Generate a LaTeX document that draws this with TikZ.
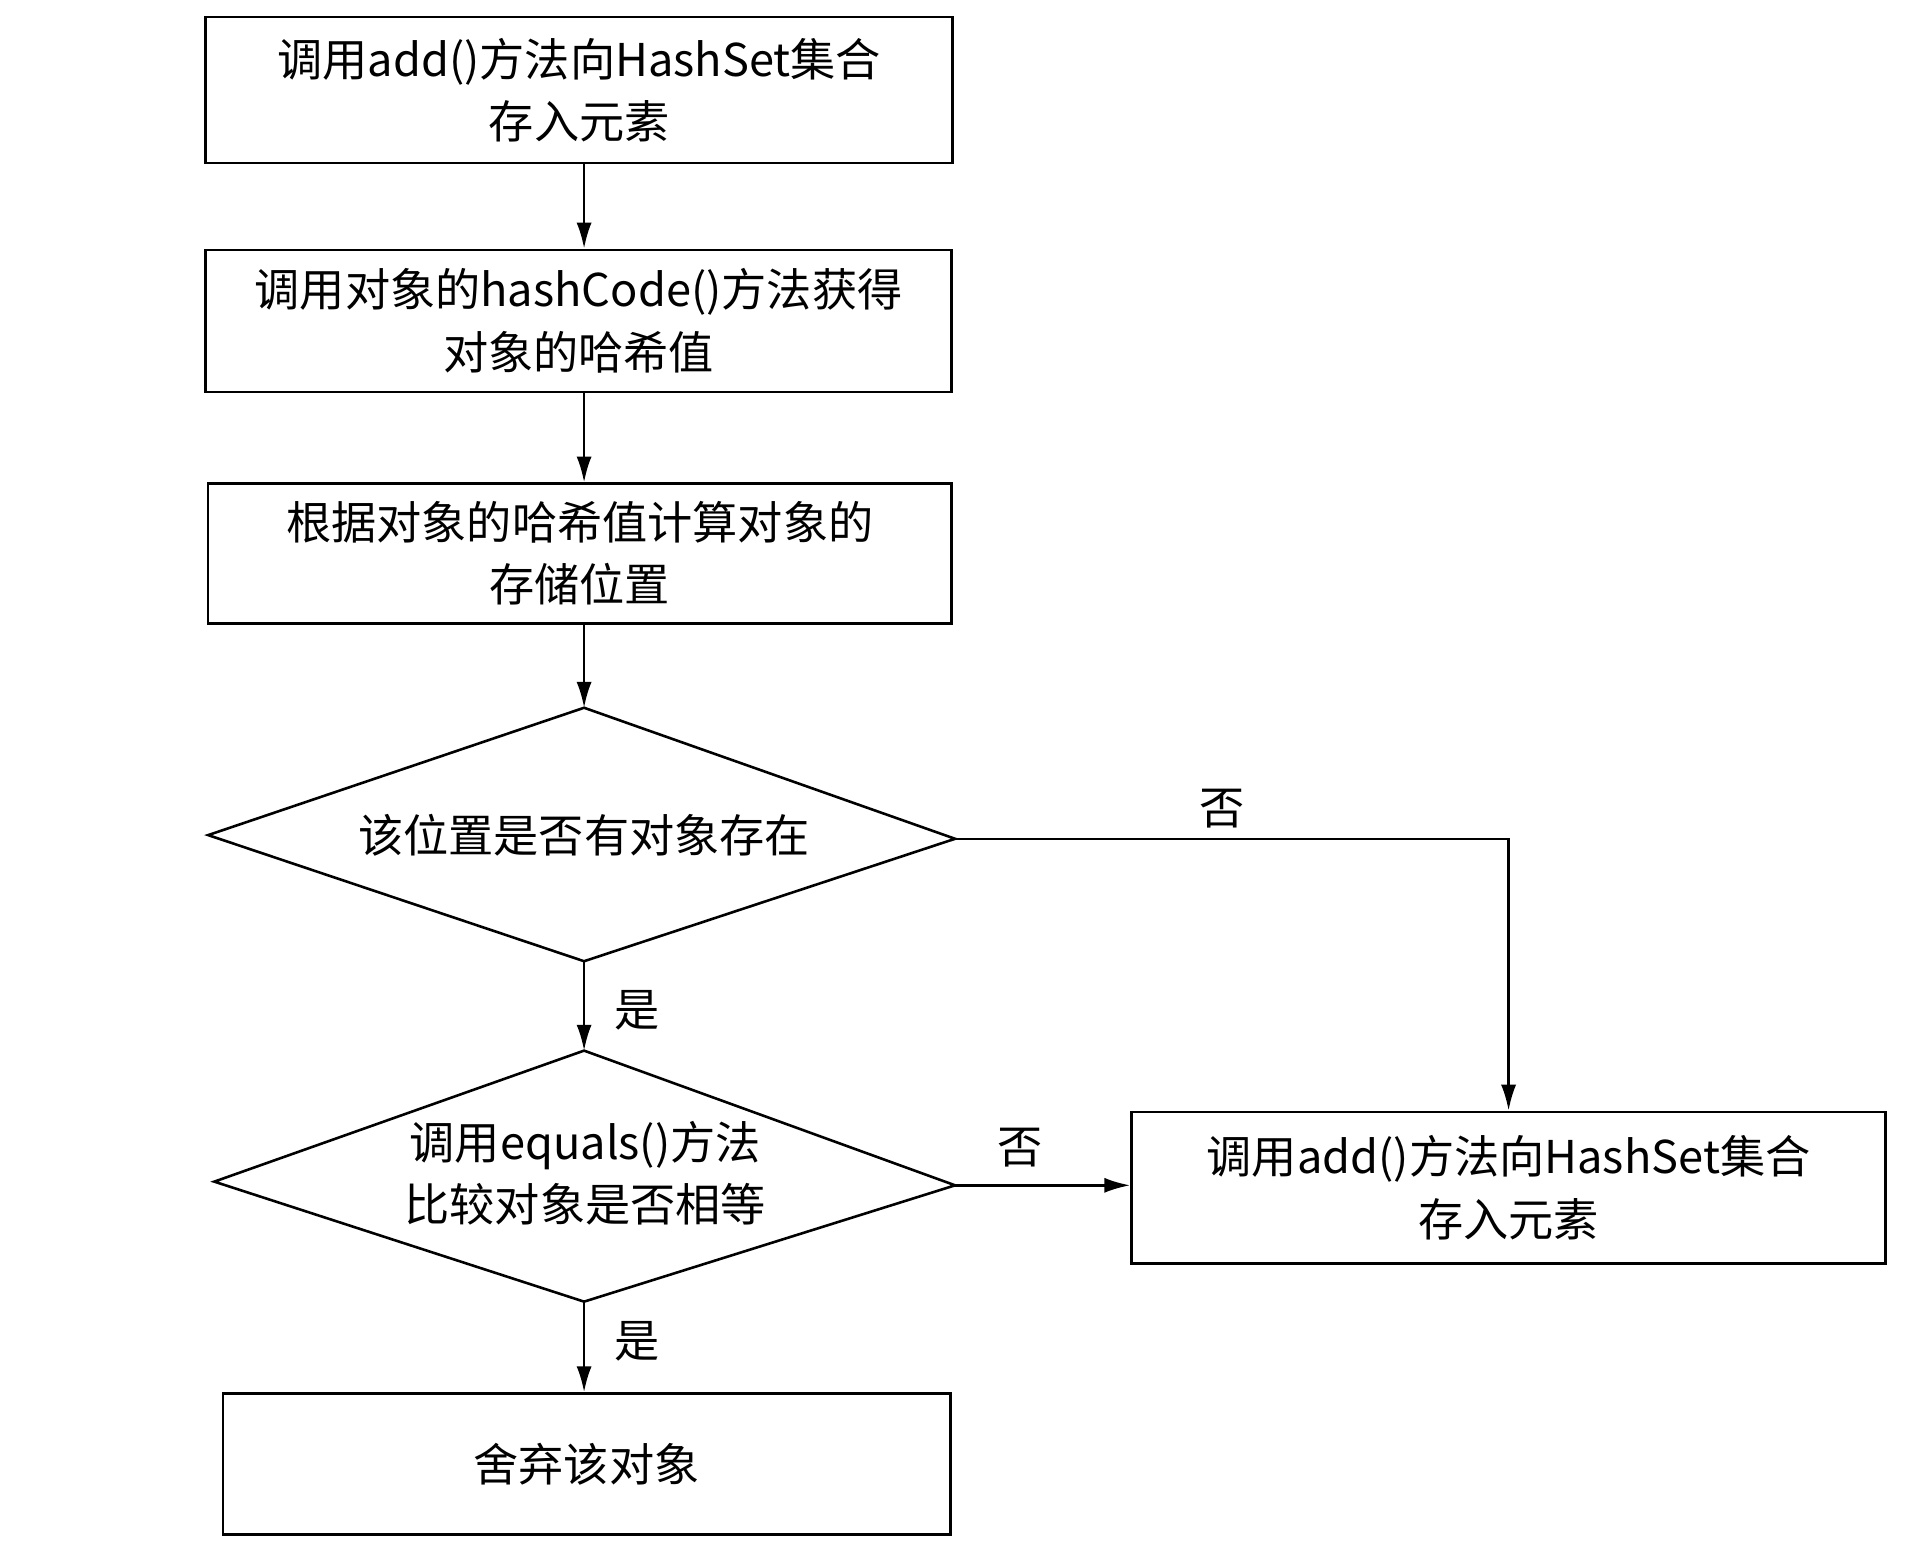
\documentclass[tikz,border=0pt]{standalone}
\usepackage{fontspec}
\setmainfont{Noto Sans CJK SC}
\usetikzlibrary{arrows.meta,shapes.geometric}
\begin{document}
\begin{tikzpicture}[x=0.02cm,y=-0.02cm,
  box/.style={draw,line width=1.2pt,align=center,font=\fontsize{21}{29}\selectfont},
  dia/.style={draw,line width=1.2pt},
  lbl/.style={font=\fontsize{21}{24}\selectfont},
  arr/.style={line width=1.1pt,-{Latex[length=12pt,width=7pt]}}]
\useasboundingbox (0,0) rectangle (1568,1267);
\node[box,minimum width=610*0.02cm,minimum height=119*0.02cm] (b1) at (473,73.5) {调用add()方法向HashSet集合\\存入元素};
\node[box,minimum width=609*0.02cm,minimum height=116*0.02cm] (b2) at (472.5,262) {调用对象的hashCode()方法获得\\对象的哈希值};
\node[box,minimum width=607*0.02cm,minimum height=114*0.02cm] (b3) at (473.5,452) {根据对象的哈希值计算对象的\\存储位置};
\draw[dia] (170,682) coordinate (d1l) -- (477,578) coordinate (d1t) -- (780,685) coordinate (d1r) -- (477,785) coordinate (d1b) -- cycle;
\node[lbl] (d1) at (477,682) {该位置是否有对象存在};
\draw[dia] (175,965) coordinate (d2l) -- (477,858) coordinate (d2t) -- (780,968) coordinate (d2r) -- (477,1063) coordinate (d2b) -- cycle;
\node[lbl,align=center,font=\fontsize{21}{29}\selectfont] (d2) at (478,958) {调用equals()方法\\比较对象是否相等};
\node[box,minimum width=616*0.02cm,minimum height=124*0.02cm] (br) at (1232,970) {调用add()方法向HashSet集合\\存入元素};
\node[box,minimum width=594*0.02cm,minimum height=115*0.02cm] (bb) at (479,1195.5) {舍弃该对象};
\draw[arr] (b1.south -| d1t) -- (b2.north -| d1t);
\draw[arr] (b2.south -| d1t) -- (b3.north -| d1t);
\draw[arr] (b3.south -| d1t) -- (d1t);
\draw[arr] (d1b) -- (d2t);
\draw[arr] (d2b) -- (bb.north -| d2b);
\draw[arr] (d1r) -| (br.north);
\draw[arr] (d2r) -- (br.west |- d2r);
\node[lbl] (n1) at (998,660) {否};
\node[lbl] (n2) at (833,937) {否};
\node[lbl] (y1) at (520,825) {是};
\node[lbl] (y2) at (520,1095) {是};
\end{tikzpicture}
\end{document}
